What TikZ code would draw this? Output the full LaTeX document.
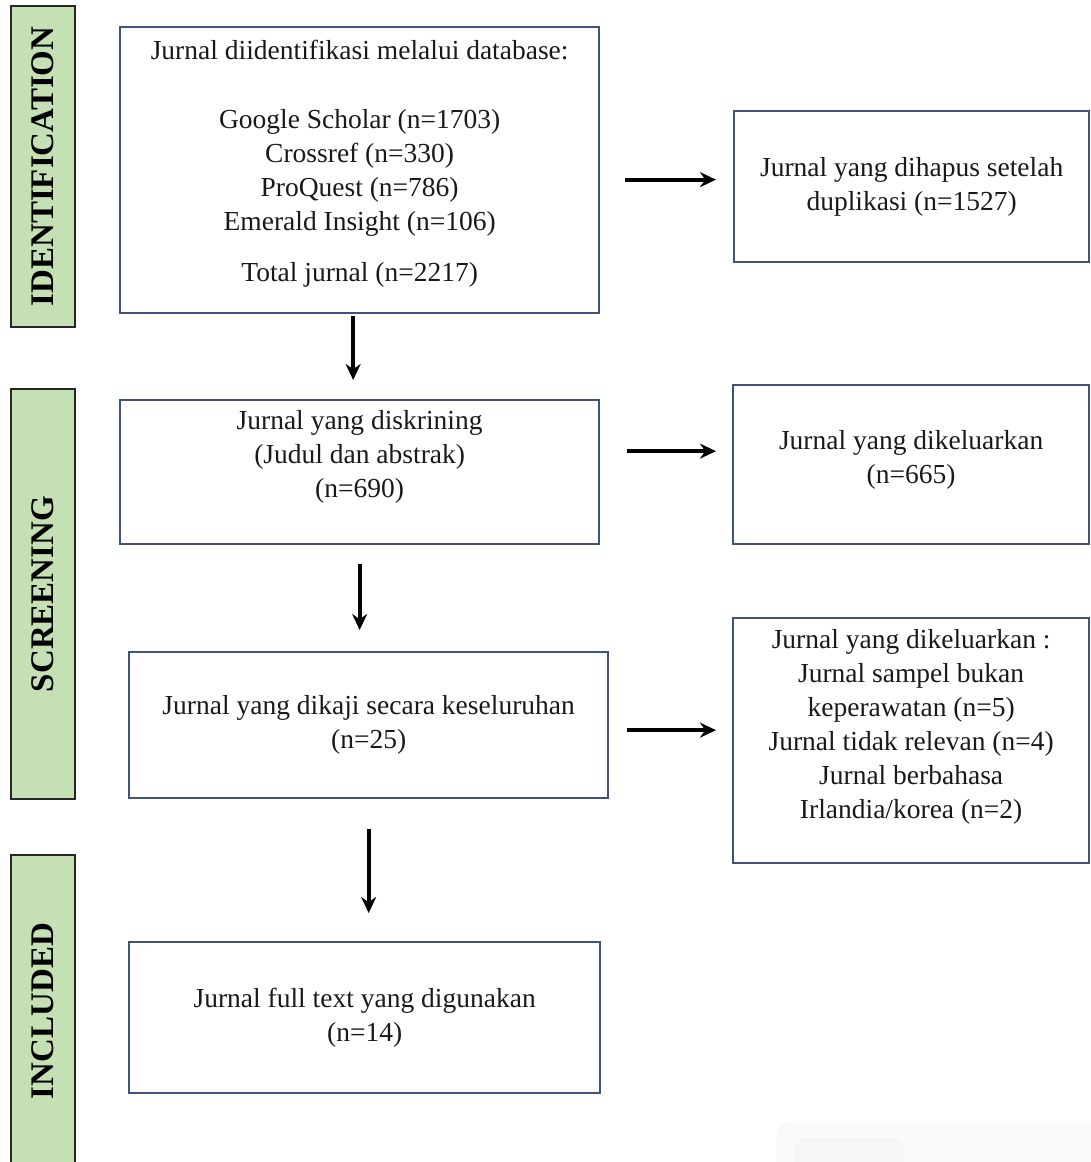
\documentclass[tikz,border=0pt]{standalone}
\usepackage{fontspec}
\setmainfont{Liberation Serif}
\usetikzlibrary{positioning}
\usetikzlibrary{calc}
\usetikzlibrary{arrows.meta}

\definecolor{barfill}{RGB}{197,224,180}
\definecolor{boxline}{RGB}{62,84,120}

\begin{document}
\begin{tikzpicture}[x=1pt,y=-1pt
    ,bar/.style={draw=black!85,line width=2pt,fill=barfill,rotate=90,minimum height=64pt,inner sep=0pt,font=\fontsize{33}{38}\selectfont\bfseries}
    ,box/.style={draw=boxline,line width=2.3pt,inner sep=0pt,anchor=north west}
    ,txt/.style={align=center,font=\fontsize{27.5}{34}\selectfont,text=black!90}
    ,arr/.style={-{Stealth[length=16pt,width=15pt]},line width=4pt}
    ]
\useasboundingbox (0,0) rectangle (1091,1162);

% phases
\node[bar,minimum width=321pt] (idbar) at (43,166.5) {IDENTIFICATION};
\node[bar,minimum width=410pt] (scbar) at (43,594) {SCREENING};
\node[bar,minimum width=313pt] (inbar) at (43,1011) {INCLUDED};

% boxes
\node[box,minimum width=479pt,minimum height=286pt] (ident) at (119,26) {};
\node[box,minimum width=355pt,minimum height=151pt] (dup) at (733,110) {};
\node[box,minimum width=479pt,minimum height=144pt] (screen) at (119,399) {};
\node[box,minimum width=356pt,minimum height=159pt] (excl1) at (732,384) {};
\node[box,minimum width=479pt,minimum height=146pt] (full) at (128,651) {};
\node[box,minimum width=356pt,minimum height=245pt] (excl2) at (732,617) {};
\node[box,minimum width=471pt,minimum height=151pt] (incl) at (128,941) {};

% texts
\node[txt] (ident-t) at ([yshift=6.5pt]ident.center)
  {Jurnal diidentifikasi melalui database:\\[35pt]
   Google Scholar (n=1703)\\ Crossref (n=330)\\ ProQuest (n=786)\\
   Emerald Insight (n=106)\\[17pt] Total jurnal (n=2217)};
\node[txt] (dup-t) at (dup.center) {Jurnal yang dihapus setelah\\ duplikasi (n=1527)};
\node[txt] (screen-t) at ([yshift=15pt]screen.center)
  {Jurnal yang diskrining\\ (Judul dan abstrak)\\ (n=690)};
\node[txt] (excl1-t) at ([yshift=5pt]excl1.center) {Jurnal yang dikeluarkan\\ (n=665)};
\node[txt] (full-t) at (full.center) {Jurnal yang dikaji secara keseluruhan\\ (n=25)};
\node[txt] (excl2-t) at ([yshift=14pt]excl2.center)
  {Jurnal yang dikeluarkan :\\ Jurnal sampel bukan\\ keperawatan (n=5)\\
   Jurnal tidak relevan (n=4)\\ Jurnal berbahasa\\ Irlandia/korea (n=2)};
\node[txt] (incl-t) at (incl.center) {Jurnal full text yang digunakan\\ (n=14)};

% arrows
\coordinate (a1) at ([yshift=7pt]dup.west);
\coordinate (a2) at ([yshift=13.5pt]excl1.west);
\coordinate (a3) at ([yshift=-5pt]full.east);
\coordinate (v1) at ([xshift=-6.5pt]ident.south);
\draw[arr,shorten <=25pt,shorten >=17pt] (a1 -| ident.east) -- (a1);
\draw[arr,shorten <=27pt,shorten >=16pt] (a2 -| screen.east) -- (a2);
\draw[arr,shorten <=18pt,shorten >=16pt] (a3) -- (a3 -| excl2.west);
\draw[arr,shorten <=2pt,shorten >=19pt] (v1) -- (v1 |- screen.north);
\draw[arr,shorten <=19pt,shorten >=21pt] (screen.south) -- (screen.south |- full.north);
\draw[arr,shorten <=30pt,shorten >=28pt] (full.south) -- (full.south |- incl.north);

% faint panel, lower right
\draw[black!7,fill=black!2,rounded corners=16pt] (777,1122) rectangle (1110,1200);
\draw[black!7,fill=black!3,rounded corners=12pt] (795,1139) rectangle (903,1200);
\end{tikzpicture}
\end{document}
